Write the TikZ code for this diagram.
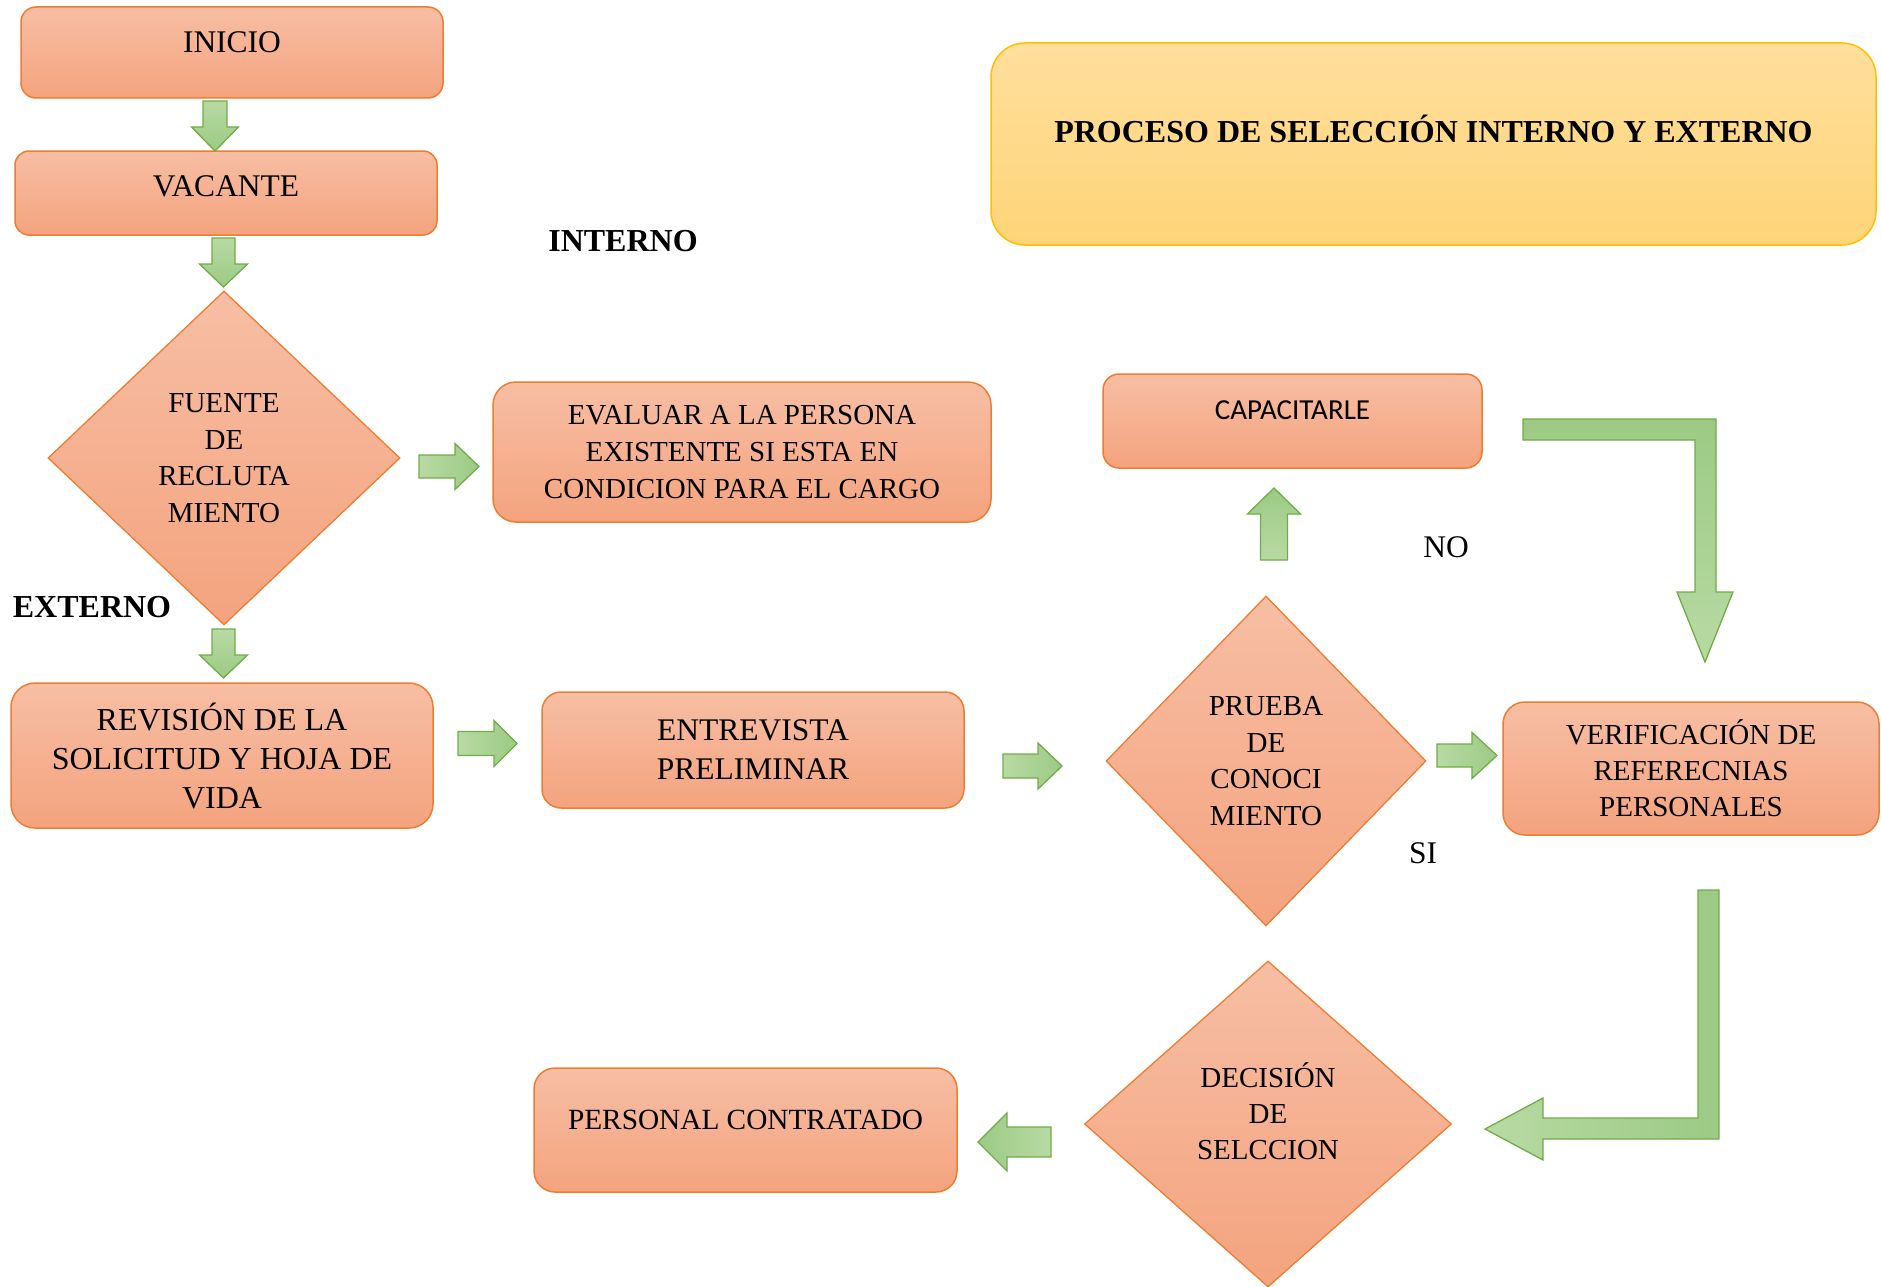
\documentclass[tikz,border=0pt]{standalone}
\usepackage{fontspec}
\setmainfont{Liberation Serif}
\newfontfamily\calfont{Carlito}
\usetikzlibrary{shapes.geometric}
\definecolor{boxT}{HTML}{F7BEA4}
\definecolor{boxBo}{HTML}{F4A37E}
\definecolor{boxLine}{HTML}{ED7D31}
\definecolor{arrL}{HTML}{B8DAA4}
\definecolor{arrD}{HTML}{9CCA84}
\definecolor{arrLine}{HTML}{70AD47}
\definecolor{titT}{HTML}{FFDF9D}
\definecolor{titB}{HTML}{FFD478}
\definecolor{titLine}{HTML}{FFC000}
\newcommand\fs[2]{\fontsize{#1}{#2}\selectfont}
% block arrows: #1 axis pos, #2 tail, #3 tip, #4 shaft half width, #5 head half width, #6 head length
\newcommand\ardown[6]{\path[barrow,top color=arrL,bottom color=arrD] ({#1-#4},#2) -- ({#1+#4},#2) -- ({#1+#4},{#3-#6}) -- ({#1+#5},{#3-#6}) -- (#1,#3) -- ({#1-#5},{#3-#6}) -- ({#1-#4},{#3-#6}) -- cycle;}
\newcommand\arup[6]{\path[barrow,top color=arrD,bottom color=arrL] ({#1-#4},#2) -- ({#1-#4},{#3+#6}) -- ({#1-#5},{#3+#6}) -- (#1,#3) -- ({#1+#5},{#3+#6}) -- ({#1+#4},{#3+#6}) -- ({#1+#4},#2) -- cycle;}
\newcommand\arright[6]{\path[barrow,left color=arrL,right color=arrD] (#2,{#1-#4}) -- ({#3-#6},{#1-#4}) -- ({#3-#6},{#1-#5}) -- (#3,#1) -- ({#3-#6},{#1+#5}) -- ({#3-#6},{#1+#4}) -- (#2,{#1+#4}) -- cycle;}
\newcommand\arleft[6]{\path[barrow,left color=arrD,right color=arrL] (#2,{#1-#4}) -- ({#3+#6},{#1-#4}) -- ({#3+#6},{#1-#5}) -- (#3,#1) -- ({#3+#6},{#1+#5}) -- ({#3+#6},{#1+#4}) -- (#2,{#1+#4}) -- cycle;}
\begin{document}
\begin{tikzpicture}[x=1pt,y=-1pt,
 box/.style={draw=boxLine, line width=1.5pt, top color=boxT, bottom color=boxBo, inner sep=0pt, align=center},
 dia/.style={diamond, draw=boxLine, line width=1.3pt, top color=boxT, bottom color=boxBo, inner sep=0pt, align=center, font=\fs{29}{36.6}},
 barrow/.style={draw=arrLine, line width=1.3pt},
 lbl/.style={inner sep=0pt, font=\fs{31.5}{36}},
 blbl/.style={inner sep=0pt, font=\bfseries\fs{32}{36}},
]
\useasboundingbox (0,0) rectangle (1881,1287);

% title
\node[box, draw=titLine, top color=titT, bottom color=titB, minimum width=885pt, minimum height=202pt, rounded corners=34pt, text height=21pt, text depth=24pt, font=\bfseries\fs{32}{36}] (title) at (1433.5,144) {PROCESO DE SELECCIÓN INTERNO Y EXTERNO};

% boxes
\node[box, minimum width=422pt, minimum height=91pt, rounded corners=15pt, text height=21pt, text depth=20pt, font=\fs{31.5}{36}] (inicio) at (232,52.5) {INICIO};
\node[box, minimum width=422pt, minimum height=84pt, rounded corners=14pt, text height=21pt, text depth=14pt, font=\fs{31.5}{36}] (vacante) at (226,193) {VACANTE};
\node[dia, minimum width=352pt, minimum height=334pt] (fuente) at (224,458) {FUENTE\\DE\\RECLUTA\\MIENTO};
\node[box, minimum width=498pt, minimum height=140pt, rounded corners=23pt, font=\fs{29}{37}] (evaluar) at (742,452) {EVALUAR A LA PERSONA\\EXISTENTE SI ESTA EN\\CONDICION PARA EL CARGO};
\node[box, minimum width=422pt, minimum height=145pt, rounded corners=24pt, font=\fs{32}{39}] (revision) at (222,755.5) {REVISIÓN DE LA\\SOLICITUD Y HOJA DE\\VIDA};
\node[box, minimum width=422pt, minimum height=116pt, rounded corners=19pt, font=\fs{31.5}{39}] (entrevista) at (753,750) {ENTREVISTA\\PRELIMINAR};
\node[box, minimum width=379pt, minimum height=94pt, rounded corners=16pt, text height=18.7pt, text depth=22pt, font=\calfont\fs{29}{36}] (capacitarle) at (1292.5,421) {CAPACITARLE};
\node[dia, minimum width=320pt, minimum height=330pt] (prueba) at (1266,761) {PRUEBA\\DE\\CONOCI\\MIENTO};
\node[box, minimum width=376pt, minimum height=133pt, rounded corners=22pt, font=\fs{29}{36}] (verif) at (1691,768.5) {VERIFICACIÓN DE\\REFERECNIAS\\PERSONALES};
\node[dia, minimum width=367pt, minimum height=326pt] (decision) at (1268,1124) {};
\node[inner sep=0pt, align=center, font=\fs{29}{36.3}] (decisiont) at (1268,1111) {DECISIÓN\\DE\\SELCCION};
\node[box, minimum width=423pt, minimum height=124pt, rounded corners=21pt, text height=19.4pt, text depth=20pt, font=\fs{29.3}{36}] (personal) at (745.5,1130) {PERSONAL CONTRATADO};

% labels
\node[blbl] (interno) at (623,241) {INTERNO};
\node[blbl] (externo) at (92,607) {EXTERNO};
\node[lbl] (no) at (1446,547) {NO};
\node[lbl] (si) at (1423,853) {SI};

% block arrows
\ardown{215}{101}{151}{12}{23.5}{24}
\ardown{223.5}{238}{287}{11.5}{24}{23}
\ardown{223.5}{629}{678}{11.5}{24}{23}
\arright{466.5}{419}{479}{11.5}{23}{24}
\arright{743.5}{458}{517}{12}{23}{23}
\arright{766}{1003}{1062}{12}{23}{24}
\arright{755.5}{1437}{1497}{11.5}{23}{25}
\arup{1274}{560}{488}{13.5}{26.5}{26}
\arleft{1142}{1051}{978}{15}{29}{29}

% bent arrows
\path[barrow, top color=arrD, bottom color=arrL] (1523,419) -- (1716,419) -- (1716,592) -- (1733,592) -- (1705,662) -- (1677,592) -- (1695,592) -- (1695,440) -- (1523,440) -- cycle;
\path[barrow, left color=arrL, right color=arrD] (1698,890) -- (1719,890) -- (1719,1139) -- (1543,1139) -- (1543,1160) -- (1485,1129) -- (1543,1098) -- (1543,1118) -- (1698,1118) -- cycle;
\end{tikzpicture}
\end{document}
